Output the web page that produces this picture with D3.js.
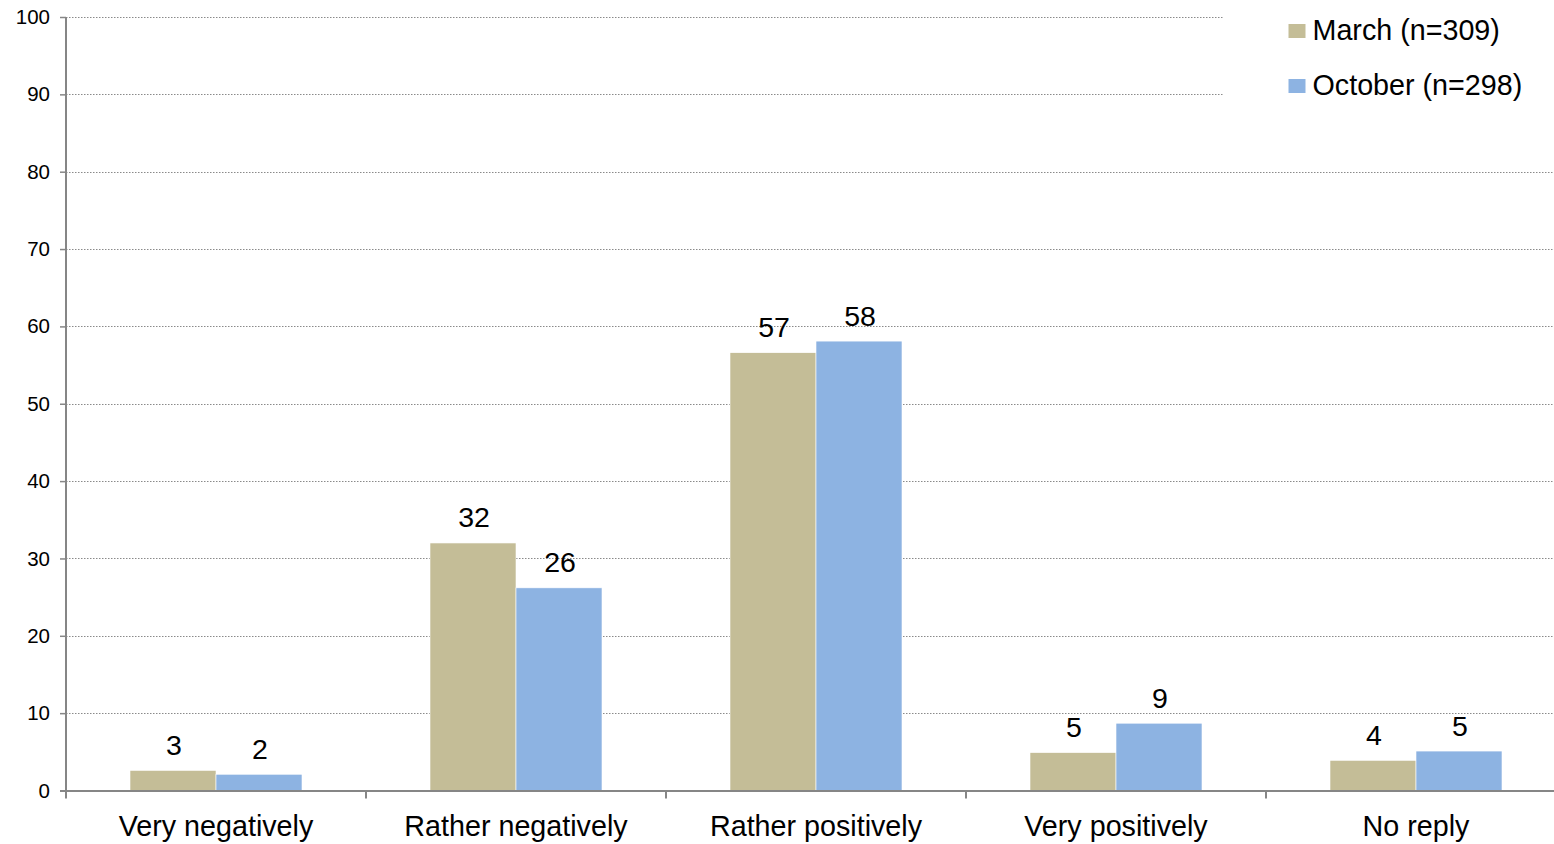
<!DOCTYPE html>
<html><head><meta charset="utf-8">
<script src="https://cdn.jsdelivr.net/npm/d3@7"></script>
<style>body{margin:0;background:#fff}svg{display:block;font-family:"Liberation Sans",Arial,sans-serif}</style>
</head><body><svg id="c" width="1554" height="844"></svg>
<script>
const categories = ["Very negatively","Rather negatively","Rather positively","Very positively","No reply"];
const seriesNames = ["March (n=309)","October (n=298)"];
const march = [2.6, 32.0, 56.6, 4.9, 3.9];
const october = [2.1, 26.2, 58.1, 8.7, 5.1];
const yTicks = [0,10,20,30,40,50,60,70,80,90,100];
const colors = ["#C4BD97","#8DB3E2"];

const svg = d3.select("#c");
const pLeft = 66, pRight = 1566, pTop = 17, pBottom = 790.5;
const x = d3.scaleBand().domain(categories).range([pLeft,pRight]).paddingInner(0).paddingOuter(0);
const y = d3.scaleLinear().domain([0,100]).range([pBottom,pTop]);

// gridlines
svg.append("g").selectAll("line").data(yTicks.filter(d=>d>0)).join("line")
  .attr("x1",pLeft).attr("x2",d=>d>=90?1224:1554)
  .attr("y1",d=>Math.round(y(d))+0.5).attr("y2",d=>Math.round(y(d))+0.5)
  .attr("stroke","#8a8a8a").attr("stroke-width",1).attr("stroke-dasharray","1.5,1.5");

// bars
const bw = 86;
const series = [march, october];
series.forEach((vals,si)=>{
  const g = svg.append("g");
  g.selectAll("rect").data(categories).join("rect")
    .attr("x",(c)=>x(c)+x.bandwidth()/2 - bw + si*bw)
    .attr("width",bw)
    .attr("y",(c,i)=>y(vals[i]))
    .attr("height",(c,i)=>y(0)-y(vals[i]))
    .attr("fill",colors[si]).attr("stroke","#fff").attr("stroke-width",0.6);
  g.selectAll("text").data(categories).join("text")
    .attr("x",(c)=>x(c)+x.bandwidth()/2 - bw/2 + si*bw + 1)
    .attr("y",(c,i)=>y(vals[i])-15.5)
    .attr("text-anchor","middle").attr("font-size",28.5).attr("fill","#000")
    .text((c,i)=>Math.round(vals[i]));
});

// y axis
const yAxis = d3.axisLeft(y).tickValues(yTicks).tickSize(6).tickPadding(10);
const ga = svg.append("g").attr("transform",`translate(${pLeft},0)`).call(yAxis);
ga.select(".domain").attr("stroke","#868686").attr("stroke-width",2).attr("d",`M0,${pTop}V${pBottom}`);
ga.selectAll(".tick line").attr("stroke","#868686").attr("stroke-width",1.5);
ga.selectAll(".tick text").attr("font-size",20.5).attr("fill","#000").attr("font-family","Liberation Sans, Arial, sans-serif");

// x axis
svg.append("line").attr("x1",60).attr("x2",1554).attr("y1",pBottom+0.5).attr("y2",pBottom+0.5)
  .attr("stroke","#868686").attr("stroke-width",2);
const bounds = categories.map(c=>x(c)).concat([pRight]);
svg.append("g").selectAll("line").data(bounds).join("line")
  .attr("x1",d=>d).attr("x2",d=>d).attr("y1",pBottom).attr("y2",pBottom+8)
  .attr("stroke","#868686").attr("stroke-width",2);
svg.append("g").selectAll("text").data(categories).join("text")
  .attr("x",c=>x(c)+x.bandwidth()/2).attr("y",836)
  .attr("text-anchor","middle").attr("font-size",28.7).attr("fill","#000").text(c=>c);

// legend
const lg = svg.append("g");
seriesNames.forEach((n,i)=>{
  lg.append("rect").attr("x",1288.5).attr("y",24+i*55).attr("width",17).attr("height",14).attr("fill",colors[i]);
  lg.append("text").attr("x",1312.5).attr("y",40+i*55).attr("font-size",28.7).attr("fill","#000").text(n);
});
</script></body></html>
